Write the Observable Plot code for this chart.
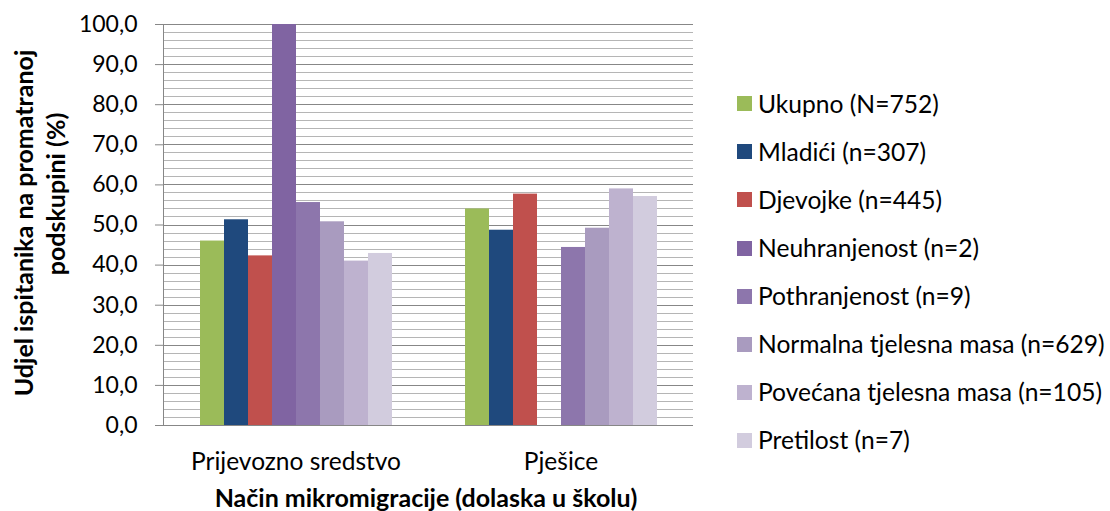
<!DOCTYPE html>
<html><head><meta charset="utf-8">
<script src="https://cdn.jsdelivr.net/npm/d3@7"></script>
<script src="https://cdn.jsdelivr.net/npm/@observablehq/plot@0.6"></script>
<style>
body{margin:0;background:#fff;}
#wrap{position:relative;width:1110px;height:511px;overflow:hidden;font-family:Lato, sans-serif;color:#000;}
#wrap svg{position:absolute;left:0;top:0;}
.ytitle{position:absolute;white-space:nowrap;font-weight:bold;font-size:25px;line-height:25px;transform:translate(-50%,-50%) rotate(-90deg);}
.xtitle{position:absolute;white-space:nowrap;font-weight:bold;font-size:25px;line-height:25px;transform:translate(-50%,-50%);}
.legend{position:absolute;left:737px;top:0;}
.legend .row{position:absolute;left:0;display:flex;align-items:center;white-space:nowrap;font-size:24.6px;line-height:26px;transform:translateY(-50%);}
.legend .sw{width:15px;height:15px;margin-right:6px;flex:none;}
</style></head><body><div id="wrap"></div>
<script>
const categories = ["Prijevozno sredstvo", "Pješice"];
const series = [
  "Ukupno (N=752)",
  "Mladići (n=307)",
  "Djevojke (n=445)",
  "Neuhranjenost (n=2)",
  "Pothranjenost (n=9)",
  "Normalna tjelesna masa (n=629)",
  "Povećana tjelesna masa (n=105)",
  "Pretilost (n=7)"
];
const colors = ["#9BBB59", "#1F497D", "#C0504D", "#8064A2", "#8D76AC", "#A99BBF", "#BEB2CF", "#D2CCDE"];
const valuesPrijevozno = [46.0, 51.3, 42.3, 100.0, 55.6, 50.8, 41.0, 42.9];
const valuesPjesice = [54.0, 48.7, 57.7, 0.0, 44.4, 49.2, 59.0, 57.1];
const yTicks = [0, 10, 20, 30, 40, 50, 60, 70, 80, 90, 100];
const yMinorTicks = [2, 4, 6, 8, 12, 14, 16, 18, 22, 24, 26, 28, 32, 34, 36, 38, 42, 44, 46, 48, 52, 54, 56, 58, 62, 64, 66, 68, 72, 74, 76, 78, 82, 84, 86, 88, 92, 94, 96, 98];
const yTitleLines = ["Udjel ispitanika na promatranoj", "podskupini (%)"];
const xTitle = "Način mikromigracije (dolaska u školu)";

const data = [];
series.forEach((s, i) => {
  data.push({cat: categories[0], series: s, value: valuesPrijevozno[i]});
  data.push({cat: categories[1], series: s, value: valuesPjesice[i]});
});

const fmt = d => d.toFixed(1).replace(".", ",");

const chart = Plot.plot({
  width: 1110, height: 511,
  marginLeft: 163, marginRight: 417, marginTop: 24, marginBottom: 86,
  style: {fontFamily: "Lato, sans-serif", fontSize: "23px", color: "#000", background: "transparent", overflow: "visible"},
  fx: {domain: categories, padding: 0, label: null},
  x: {domain: series, paddingInner: 0, paddingOuter: 1.52, axis: null},
  y: {domain: [0, 100]},
  color: {domain: series, range: colors},
  marks: [
    Plot.ruleY(yMinorTicks, {stroke: "#b5b5b5", strokeWidth: 1, shapeRendering: "crispEdges"}),
    Plot.ruleY(yTicks, {stroke: "#878787", strokeWidth: 1, shapeRendering: "crispEdges"}),
    Plot.barY(data, {fx: "cat", x: "series", y: "value", fill: "series", inset: 0}),
    Plot.frame({anchor: "left", stroke: "#878787", facetAnchor: "left", shapeRendering: "crispEdges"}),
    Plot.axisY({ticks: yTicks, tickFormat: fmt, tickSize: 8, tickPadding: 18, stroke: "#878787", label: null, fontSize: 23}),
    Plot.axisFx({anchor: "bottom", tickSize: 0, tickPadding: 27, label: null, fontSize: 24.5})
  ]
});

const wrap = document.getElementById("wrap");
wrap.appendChild(chart);

// y title (two lines)
const yPos = [[23, 223], [55, 194]];
yTitleLines.forEach((t, i) => {
  const d = document.createElement("div");
  d.className = "ytitle";
  d.textContent = t;
  d.style.left = yPos[i][0] + "px";
  d.style.top = yPos[i][1] + "px";
  wrap.appendChild(d);
});
// x title
const xt = document.createElement("div");
xt.className = "xtitle";
xt.textContent = xTitle;
xt.style.left = "426px";
xt.style.top = "497px";
wrap.appendChild(xt);

// legend
const lg = document.createElement("div");
lg.className = "legend";
series.forEach((s, i) => {
  const r = document.createElement("div");
  r.className = "row";
  r.style.top = (103.7 + 48.1 * i) + "px";
  const sw = document.createElement("div");
  sw.className = "sw";
  sw.style.background = colors[i];
  const tx = document.createElement("span");
  tx.textContent = s;
  r.appendChild(sw);
  r.appendChild(tx);
  lg.appendChild(r);
});
wrap.appendChild(lg);
</script>
</body></html>
